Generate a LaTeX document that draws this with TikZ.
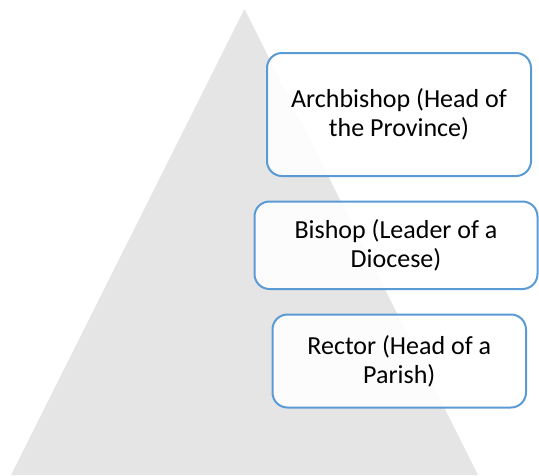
\documentclass[tikz,border=0pt]{standalone}
\usepackage{fontspec}
\setmainfont{Carlito}
\definecolor{pyr}{HTML}{E5E5E5}
\definecolor{boxline}{HTML}{5B9BD5}
\tikzset{
  levelbox/.style={draw=boxline, line width=2pt, rounded corners=15pt,
    fill=white, fill opacity=0.9, text opacity=1, align=center,
    font=\fontsize{26}{29}\selectfont, inner sep=0pt}
}
\begin{document}
\begin{tikzpicture}[x=1pt,y=-1pt]
\useasboundingbox (0,0) rectangle (539,475);
\fill[pyr] (244.5,9) -- (478,475) -- (11,475) -- cycle;
\node[levelbox, minimum width=264pt, minimum height=123pt] (arch) at (399,114.5)
  {Archbishop (Head of\\the Province)};
\node[levelbox, minimum width=283pt, minimum height=87.5pt] (bish) at (396,245.25)
  {Bishop (Leader of a\\Diocese)};
\node[levelbox, minimum width=253.5pt, minimum height=93pt] (rect) at (399.25,361)
  {Rector (Head of a\\Parish)};
\end{tikzpicture}
\end{document}
